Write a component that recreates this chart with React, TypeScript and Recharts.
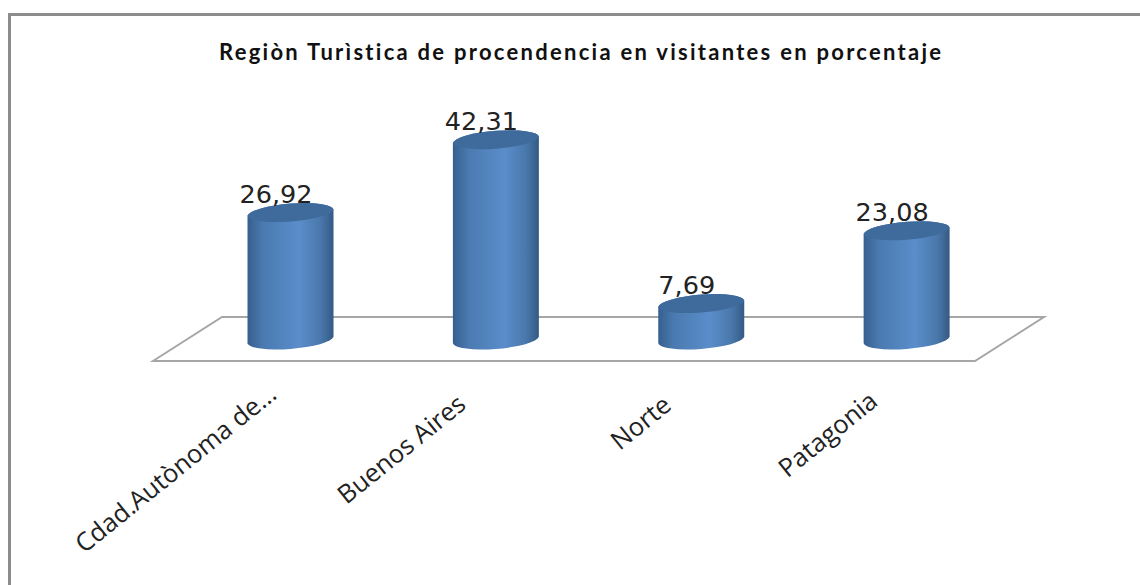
import { BarChart, Bar, XAxis, YAxis, LabelList } from 'recharts';

const categories = ['Cdad.Autònoma de…', 'Buenos Aires', 'Norte', 'Patagonia'];
const percentages = [26.92, 42.31, 7.69, 23.08];
const chartTitle = 'Regiòn Turìstica de procendencia en visitantes en porcentaje';

const chartData = categories.map((region, i) => ({ region, value: percentages[i] }));

const tickEnds = [
  { dx: -12, dy: 49 },
  { dx: -28, dy: 59 },
  { dx: -28, dy: 60 },
  { dx: -27, dy: 56 },
];

const TILT = 3.2;
const RX = 43.2;
const RY = 9.5;
const ROT = -4.5;

function Cylinder({ x, y, width, height }: any) {
  const x2 = x + width;
  const bottom = y + height;
  const body =
    `M${x},${y + TILT} L${x},${bottom + TILT} ` +
    `A${RX},${RY} ${ROT} 0 0 ${x2},${bottom - TILT} ` +
    `L${x2},${y - TILT} A${RX},${RY} ${ROT} 0 0 ${x},${y + TILT} Z`;
  const top =
    `M${x},${y + TILT} A${RX},${RY} ${ROT} 0 1 ${x2},${y - TILT} ` +
    `A${RX},${RY} ${ROT} 0 1 ${x},${y + TILT} Z`;
  return (
    <g>
      <path d={body} fill="url(#cylinderFill)" />
      <path d={top} fill="#3f6b9c" />
    </g>
  );
}

function RegionTick({ x, y, payload, index }: any) {
  const end = tickEnds[index];
  const px = x + end.dx;
  const py = y + end.dy;
  return (
    <text
      x={px}
      y={py}
      textAnchor="end"
      transform={`rotate(-39 ${px} ${py})`}
      fontFamily="'Open Sans', sans-serif"
      fontSize={25.5}
      fill="#222"
    >
      {payload.value}
    </text>
  );
}

function ValueLabel({ x, y, width, value }: any) {
  return (
    <text
      x={x + width / 2 - 14.5}
      y={y - 10}
      textAnchor="middle"
      fontFamily="'DejaVu Sans', sans-serif"
      fontSize={25.5}
      fill="#222"
    >
      {String(value).replace('.', ',')}
    </text>
  );
}

export default function App() {
  return (
    <div style={{ position: 'absolute', left: 0, top: 0, width: 1140, height: 585, background: '#fff', overflow: 'hidden' }}>
      <div
        style={{
          position: 'absolute',
          left: 8,
          top: 13,
          width: 1132,
          height: 572,
          boxSizing: 'border-box',
          borderTop: '3px solid #8c8c8c',
          borderLeft: '3px solid #8c8c8c',
        }}
      />
      <BarChart
        width={1140}
        height={585}
        data={chartData}
        margin={{ top: 127, right: 131, bottom: 0, left: 187.5 }}
        style={{ position: 'absolute', left: 0, top: 0 }}
      >
        <defs>
          <linearGradient id="cylinderFill" x1="0" y1="0" x2="1" y2="0">
            <stop offset="0%" stopColor="#365f8e" />
            <stop offset="18%" stopColor="#4a7ab0" />
            <stop offset="60%" stopColor="#5a8dca" />
            <stop offset="85%" stopColor="#4a78ac" />
            <stop offset="100%" stopColor="#345a84" />
          </linearGradient>
        </defs>
        <polygon points="153,361 222,317 1044,317 975,361" fill="none" stroke="#a6a6a6" strokeWidth={2} />
        <text
          x={580}
          y={60}
          textAnchor="middle"
          textLength={722}
          fontFamily="Lato, sans-serif"
          fontWeight={700}
          fontSize={22}
          fill="#111"
          style={{ fontVariantLigatures: 'none' }}
        >
          {chartTitle}
        </text>
        <XAxis dataKey="region" height={245} axisLine={false} tickLine={false} interval={0} tick={RegionTick} />
        <YAxis hide width={0} domain={[0, 45]} />
        <Bar dataKey="value" barSize={86} shape={Cylinder} isAnimationActive={false}>
          <LabelList dataKey="value" content={ValueLabel} />
        </Bar>
      </BarChart>
    </div>
  );
}
